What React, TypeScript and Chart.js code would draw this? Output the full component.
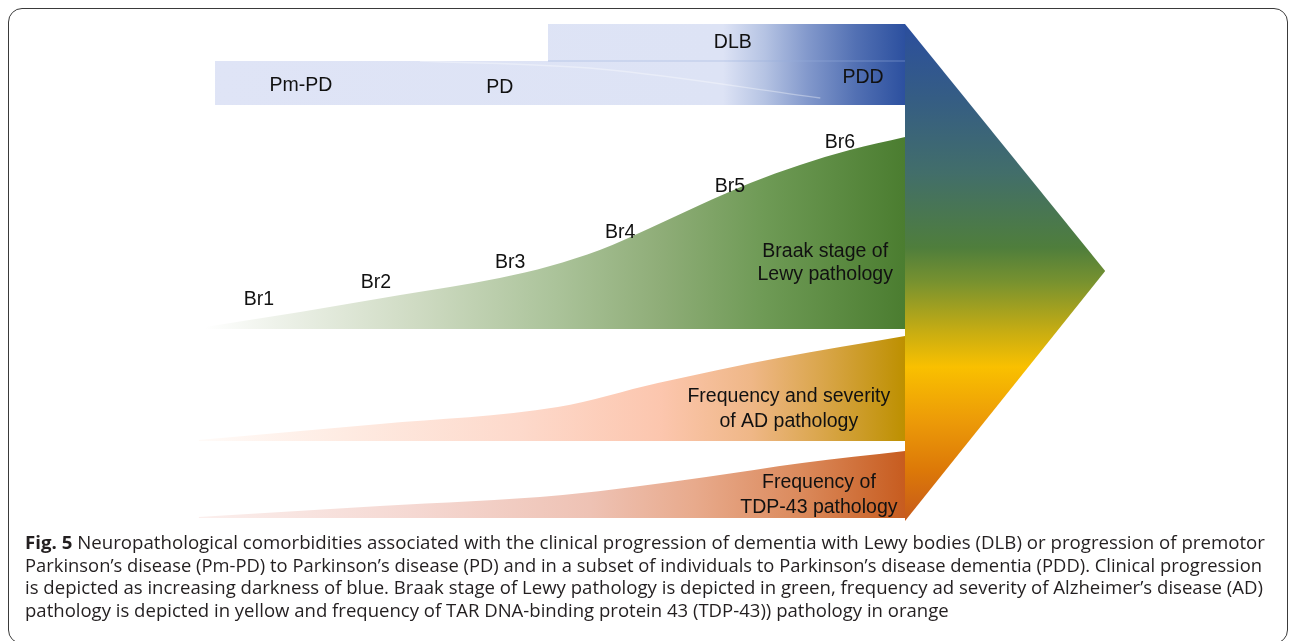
import React, { useEffect, useRef } from "react";
import { Chart, registerables } from "chart.js";

Chart.register(...registerables);

// ---------------- data ----------------
// x = clinical progression (0 = earliest, 100 = end stage); y = pathology level (arbitrary units)
const lewyX = [0, 13.6, 27.9, 42.1, 49.3, 56.4, 63.6, 70.7, 77.9, 85, 92.1, 100];
const lewyTop = [191, 206, 223, 240, 252, 268, 290, 313, 335, 353, 368, 381];
const LEWY_BASE = 189;

const adX = [-0.9, 25, 50.4, 64.7, 81.9, 100];
const adTop = [78, 94, 111, 135, 160, 182];
const AD_BASE = 77;

const tdpX = [-0.9, 25, 51.1, 71.6, 85.3, 100];
const tdpTop = [1, 12, 23, 41, 55, 67];
const TDP_BASE = 0;

// clinical (blue) bands: PD track and DLB track
const bandStartX = [1.43, 49];
const bandTop = [457, 494];
const bandBottom = [413, 457];
const END_X = 100;

// converging arrow
const arrowX = [100, 128.6, 100];
const arrowY = [494, 247, -3];

// faint streaks inside the blue band
const streakX = [30.7, 56.4, 87.9];
const streakY = [457, 449, 420];
const edgeX = [49, 100];
const edgeY = [457, 457];

// labels
const stageLabels = ["Br1", "Br2", "Br3", "Br4", "Br5", "Br6"];
const stageLabelX = [7.7, 24.4, 43.6, 59.3, 75, 90.7];
const stageLabelY = [218, 235, 255, 285, 331, 375];

const clinicalLabels = ["Pm-PD", "PD", "PDD", "DLB"];
const clinicalLabelX = [13.7, 42.1, 94, 75.4];
const clinicalLabelY = [432, 430, 440, 475];

const pathologyLabels = [
  "Braak stage of",
  "Lewy pathology",
  "Frequency and severity",
  "of AD pathology",
  "Frequency of",
  "TDP-43 pathology",
];
const pathologyLabelX = [88.6, 88.6, 83.4, 83.4, 87.7, 87.7];
const pathologyLabelY = [266, 243, 121, 96, 35, 10];

const captionLines: [string, string][] = [
  ["Fig. 5", " Neuropathological comorbidities associated with the clinical progression of dementia with Lewy bodies (DLB) or progression of premotor"],
  ["", "Parkinson\u2019s disease (Pm-PD) to Parkinson\u2019s disease (PD) and in a subset of individuals to Parkinson\u2019s disease dementia (PDD). Clinical progression"],
  ["", "is depicted as increasing darkness of blue. Braak stage of Lewy pathology is depicted in green, frequency ad severity of Alzheimer\u2019s disease (AD)"],
  ["", "pathology is depicted in yellow and frequency of TAR DNA-binding protein 43 (TDP-43)) pathology in orange"],
];

// ---------------- layout / style ----------------
const W = 1290;
const H = 641;
const X_ORIGIN_PX = 205;
const PX_PER_X = 7;
const Y_ORIGIN_PX = 518;
const PX_PER_Y = 1;

const BLUE_STOPS: [number, string][] = [
  [0, "#dfe4f6"], [0.74, "#dde3f5"], [0.8, "#b5c3e3"], [0.86, "#8399cc"], [0.93, "#5270b3"], [1, "#2c509f"],
];
const GREEN_STOPS: [number, string][] = [
  [0, "#ffffff"], [0.1, "#eef2ea"], [0.3, "#cfdbc3"], [0.5, "#abc39a"], [0.65, "#8fad78"], [0.8, "#6e9a55"], [1, "#4b7d30"],
];
const AD_STOPS: [number, string][] = [
  [0, "#fffaf7"], [0.2, "#feebe2"], [0.45, "#fdd9cb"], [0.65, "#fcc6ae"], [0.78, "#efb787"], [0.88, "#daa64c"], [1, "#bd9000"],
];
const TDP_STOPS: [number, string][] = [
  [0, "#fbeeec"], [0.3, "#f5d8d2"], [0.55, "#eec2b4"], [0.7, "#e8aa8c"], [0.85, "#db8a5c"], [1, "#c75c1f"],
];
const ARROW_STOPS: [number, string][] = [
  [0, "#2b4e9e"], [0.15, "#355d84"], [0.3, "#426e6a"], [0.45, "#4f7e3c"], [0.52, "#78922f"],
  [0.62, "#c8ad12"], [0.69, "#f9c000"], [0.8, "#ec9a08"], [0.9, "#dc7808"], [1, "#c65a1c"],
];

function hGrad(chart: any, stops: [number, string][], fallback: string) {
  const { ctx, chartArea, scales } = chart;
  if (!chartArea || !scales.x) return fallback;
  const g = ctx.createLinearGradient(scales.x.getPixelForValue(0), 0, scales.x.getPixelForValue(END_X), 0);
  stops.forEach(([o, c]) => g.addColorStop(o, c));
  return g;
}

function vGrad(chart: any, stops: [number, string][], fallback: string) {
  const { ctx, chartArea, scales } = chart;
  if (!chartArea || !scales.y) return fallback;
  const g = ctx.createLinearGradient(0, scales.y.getPixelForValue(arrowY[0]), 0, scales.y.getPixelForValue(arrowY[2]));
  stops.forEach(([o, c]) => g.addColorStop(o, c));
  return g;
}

const pts = (xs: number[], ys: number[]) => xs.map((x, i) => ({ x, y: ys[i] }));

function areaSet(data: any[], base: number, bg: (c: any) => any, smooth: boolean) {
  return {
    data,
    fill: { value: base },
    backgroundColor: bg,
    borderColor: "rgba(0,0,0,0)",
    borderWidth: 0,
    pointRadius: 0,
    pointHoverRadius: 0,
    tension: 0,
    cubicInterpolationMode: smooth ? "monotone" : "default",
  };
}

const labelPlugin = {
  id: "figureLabels",
  afterDatasetsDraw(chart: any) {
    const { ctx, scales } = chart;
    const { x, y } = scales;
    ctx.save();
    ctx.font = '19.5px "Liberation Sans", Arial, sans-serif';
    ctx.fillStyle = "#111111";
    ctx.textAlign = "center";
    ctx.textBaseline = "middle";
    const draw = (t: string, lx: number, ly: number) =>
      ctx.fillText(t, x.getPixelForValue(lx), y.getPixelForValue(ly));
    stageLabels.forEach((t, i) => draw(t, stageLabelX[i], stageLabelY[i]));
    clinicalLabels.forEach((t, i) => draw(t, clinicalLabelX[i], clinicalLabelY[i]));
    pathologyLabels.forEach((t, i) => draw(t, pathologyLabelX[i], pathologyLabelY[i]));
    ctx.restore();
  },
};

const CAPTION_TARGETS = [1240, 1237, 1238];

export default function App() {
  const canvasRef = useRef<HTMLCanvasElement | null>(null);
  const lineRefs = useRef<(HTMLDivElement | null)[]>([]);

  useEffect(() => {
    if (!canvasRef.current) return;
    const xMin = -X_ORIGIN_PX / PX_PER_X;
    const xMax = (W - X_ORIGIN_PX) / PX_PER_X;
    const yMax = Y_ORIGIN_PX / PX_PER_Y;
    const yMin = yMax - H / PX_PER_Y;

    const blue = (c: any) => hGrad(c.chart, BLUE_STOPS, "#dfe4f6");
    const arrowBg = (c: any) => vGrad(c.chart, ARROW_STOPS, "#4f7e3c");

    const chart = new Chart(canvasRef.current, {
      type: "line",
      data: {
        datasets: [
          {
            data: pts(streakX, streakY),
            borderColor: "rgba(255,255,255,0.35)",
            borderWidth: 1.5,
            pointRadius: 0,
            fill: false,
            cubicInterpolationMode: "monotone",
          } as any,
          {
            data: pts(edgeX, edgeY),
            borderColor: "rgba(150,172,222,0.35)",
            borderWidth: 1.5,
            pointRadius: 0,
            fill: false,
          } as any,
          areaSet(pts([bandStartX[0], END_X], [bandTop[0], bandTop[0]]), bandBottom[0], blue, false),
          areaSet(pts([bandStartX[1], END_X], [bandTop[1], bandTop[1]]), bandBottom[1], blue, false),
          areaSet(pts(lewyX, lewyTop), LEWY_BASE, (c: any) => hGrad(c.chart, GREEN_STOPS, "#8fad78"), true),
          areaSet(pts(adX, adTop), AD_BASE, (c: any) => hGrad(c.chart, AD_STOPS, "#fcc6ae"), true),
          areaSet(pts(tdpX, tdpTop), TDP_BASE, (c: any) => hGrad(c.chart, TDP_STOPS, "#e8aa8c"), true),
          areaSet(pts(arrowX.slice(0, 2), arrowY.slice(0, 2)), arrowY[1], arrowBg, false),
          areaSet(pts(arrowX.slice(1, 3).reverse(), arrowY.slice(1, 3).reverse()), arrowY[1], arrowBg, false),
        ] as any,
      },
      options: {
        animation: false,
        responsive: true,
        maintainAspectRatio: false,
        events: [],
        layout: { padding: 0 },
        plugins: { legend: { display: false }, tooltip: { enabled: false } },
        scales: {
          x: { type: "linear", min: xMin, max: xMax, bounds: "data", display: false },
          y: { type: "linear", min: yMin, max: yMax, bounds: "data", display: false },
        },
      } as any,
      plugins: [labelPlugin],
    });
    return () => chart.destroy();
  }, []);

  useEffect(() => {
    const fit = () => {
      const els = lineRefs.current;
      const scales: number[] = [];
      els.forEach((el, i) => {
        if (!el) return;
        el.style.transform = "none";
        const w = el.getBoundingClientRect().width;
        if (i < CAPTION_TARGETS.length && w > 0) scales.push(CAPTION_TARGETS[i] / w);
      });
      const mean = scales.length ? scales.reduce((a, b) => a + b, 0) / scales.length : 1;
      els.forEach((el, i) => {
        if (!el) return;
        const s = i < scales.length ? scales[i] : mean;
        el.style.transform = `scaleX(${s})`;
      });
    };
    fit();
    if ((document as any).fonts && (document as any).fonts.ready) {
      (document as any).fonts.ready.then(fit);
    }
  }, []);

  return (
    <div style={{ position: "fixed", left: 0, top: 0, width: W, height: H, background: "#ffffff", overflow: "hidden" }}>
      <div style={{ position: "absolute", left: 0, top: 0, width: W, height: H }}>
        <canvas ref={canvasRef} />
      </div>
      <div
        style={{
          position: "absolute",
          left: 8,
          top: 8,
          width: 1280,
          height: 636,
          boxSizing: "border-box",
          border: "1.5px solid #3a3a3a",
          borderRadius: 14,
          pointerEvents: "none",
        }}
      />
      {captionLines.map(([bold, rest], i) => (
        <div
          key={i}
          ref={(el) => {
            lineRefs.current[i] = el;
          }}
          style={{
            position: "absolute",
            left: 25,
            top: 531 + i * 22.5,
            whiteSpace: "nowrap",
            fontFamily: '"Open Sans", "Noto Sans", sans-serif',
            fontSize: 17.5,
            lineHeight: "23px",
            color: "#231f20",
            transformOrigin: "0 0",
          }}
        >
          {bold ? <b style={{ fontWeight: 700 }}>{bold}</b> : null}
          {rest}
        </div>
      ))}
    </div>
  );
}
